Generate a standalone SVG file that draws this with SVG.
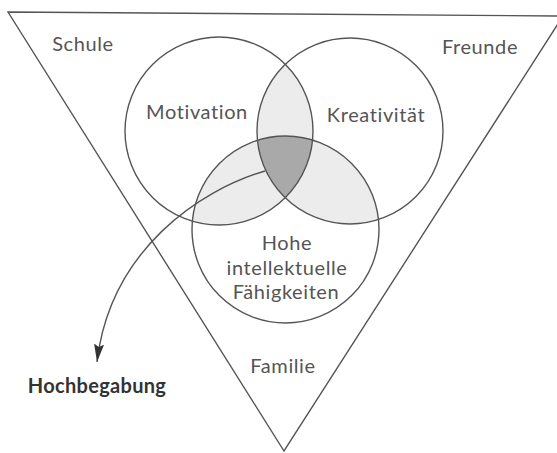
<svg xmlns="http://www.w3.org/2000/svg" width="557" height="453" viewBox="0 0 557 453">
<style>
.ln{fill:none;stroke:#555;stroke-width:1.4}
.t{font-family:Lato,"Open Sans",sans-serif;font-size:20px;letter-spacing:0.6px;fill:#555;text-anchor:middle}
.b{font-weight:bold;fill:#333;font-size:20px;letter-spacing:0.3px}
.lt{fill:#ececec}
.dk{fill:#a9a9a9}
</style>
<defs>
<clipPath id="cL"><circle cx="219" cy="131" r="94"/></clipPath>
<clipPath id="cR"><circle cx="350" cy="131" r="93"/></clipPath>
<marker id="ah" markerUnits="userSpaceOnUse" markerWidth="20" markerHeight="12" viewBox="0 0 20 12" refX="18" refY="6" orient="auto">
<path d="M0,1 L18,6 L0,11 L3,6 Z" fill="#333"/>
</marker>
</defs>
<g id="shading">
<circle class="lt" cx="350" cy="131" r="93" clip-path="url(#cL)"/>
<circle class="lt" cx="285.5" cy="229.5" r="93.5" clip-path="url(#cL)"/>
<circle class="lt" cx="285.5" cy="229.5" r="93.5" clip-path="url(#cR)"/>
<g clip-path="url(#cR)"><circle class="dk" cx="285.5" cy="229.5" r="93.5" clip-path="url(#cL)"/></g>
</g>
<g id="context">
<path class="ln" d="M8,12 L563,16 L284,451 Z"/>
<text class="t" x="83" y="51">Schule</text>
<text class="t" x="480" y="54">Freunde</text>
<text class="t" x="283" y="373">Familie</text>
</g>
<g id="motivation">
<circle class="ln" cx="219" cy="131" r="94"/>
<text class="t" x="197" y="119">Motivation</text>
</g>
<g id="kreativitaet">
<circle class="ln" cx="350" cy="131" r="93"/>
<text class="t" x="376" y="122">Kreativität</text>
</g>
<g id="intellekt">
<circle class="ln" cx="285.5" cy="229.5" r="93.5"/>
<text class="t" x="287" y="250">Hohe</text>
<text class="t" x="287" y="275">intellektuelle</text>
<text class="t" x="286" y="299">Fähigkeiten</text>
</g>
<g id="hochbegabung">
<text class="t b" x="97" y="393">Hochbegabung</text>
</g>
<g id="connectors">
<path class="ln" d="M265,171 C200,190 110,250 97,362" marker-end="url(#ah)"/>
</g>
</svg>
